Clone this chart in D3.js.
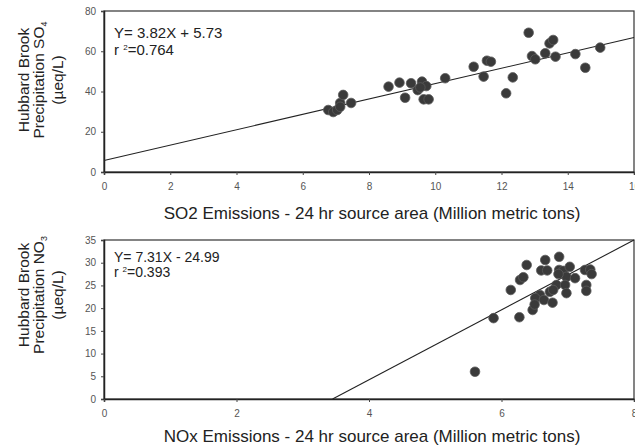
<!DOCTYPE html>
<html>
<head>
<meta charset="utf-8">
<script src="https://cdnjs.cloudflare.com/ajax/libs/d3/7.8.5/d3.min.js"></script>
<style>
  body { margin: 0; background: #fff; overflow: hidden; }
  svg { display: block; font-family: "Liberation Sans", Arial, sans-serif; }
  .tick text { fill: #555; font-size: 10px; }
</style>
</head>
<body>
<script>
// SO4 vs SO2 emissions
var so2X = [6.77, 6.92, 7.04, 7.13, 7.22, 7.13, 7.46, 8.59, 8.92, 9.09, 9.27, 9.47, 9.60, 9.73, 9.65, 9.80,
            10.30, 11.16, 11.46, 11.56, 11.68, 12.14, 12.34, 12.82, 12.92, 13.02, 13.32, 13.45, 13.56, 13.63,
            14.23, 14.53, 14.98, 9.55];
var so4Y = [30.8, 29.8, 30.8, 34.3, 38.3, 32.4, 34.3, 42.4, 44.4, 36.9, 44.1, 40.7, 44.9, 42.7, 36.1, 36.1,
            46.6, 52.3, 47.4, 55.3, 54.8, 39.1, 47.0, 69.2, 57.6, 56.0, 59.0, 63.9, 65.6, 57.3,
            58.6, 51.8, 61.8, 42.0];
// NO3 vs NOx emissions
var noxX = [5.60, 5.88, 6.27, 6.14, 6.28, 6.33, 6.38, 6.66, 6.87, 6.60, 6.69, 6.87, 6.93, 7.03, 7.26, 7.34,
            7.36, 7.28, 7.28, 6.98, 7.11, 6.83, 6.96, 6.98, 6.73, 6.58, 6.51, 6.64, 6.77, 6.47, 6.86, 6.78, 6.50];
var no3Y = [6.0, 17.8, 18.0, 24.0, 26.2, 26.8, 29.5, 30.6, 31.3, 28.3, 28.3, 28.4, 28.2, 29.1, 28.4, 28.5,
            27.5, 25.1, 23.8, 26.9, 26.6, 25.1, 25.1, 23.3, 23.6, 22.9, 22.2, 21.8, 21.2, 19.6, 27.5, 24.0, 20.8];

var so4Fit = [[0, 5.73], [16, 66.85]];
var no3Fit = [[3.45, 0], [8, 35]];

var so4Ticks = [0, 20, 40, 60, 80];
var so2Ticks = [0, 2, 4, 6, 8, 10, 12, 14, 16];
var no3Ticks = [0, 5, 10, 15, 20, 25, 30, 35];
var noxTicks = [0, 2, 4, 6, 8];

var svg = d3.select("body").append("svg")
    .attr("width", 635)
    .attr("height", 448);

function drawPanel(opt) {
    var x = d3.scaleLinear().domain(opt.xDomain).range([104, 634]);
    var y = d3.scaleLinear().domain(opt.yDomain).range([opt.bottom, opt.top]);
    var g = svg.append("g");

    // frame
    g.append("rect")
        .attr("x", 104).attr("y", opt.top)
        .attr("width", 530).attr("height", opt.bottom - opt.top)
        .attr("fill", "none").attr("stroke", "#333").attr("stroke-width", 1.2);

    var yAxis = g.append("g")
        .attr("transform", "translate(104,0)")
        .call(d3.axisLeft(y).tickValues(opt.yTicks).tickSize(3).tickPadding(5));
    var xAxis = g.append("g")
        .attr("transform", "translate(0," + opt.bottom + ")")
        .call(d3.axisBottom(x).tickValues(opt.xTicks).tickSize(3).tickPadding(8));
    [yAxis, xAxis].forEach(function (a) {
        a.select(".domain").attr("stroke", "#222").attr("stroke-width", 1.5);
        a.selectAll(".tick line").attr("stroke", "#444");
        a.selectAll(".tick text").attr("font-family", null).attr("font-size", null);
    });

    // fitted line
    g.append("path")
        .attr("d", d3.line().x(function (d) { return x(d[0]); }).y(function (d) { return y(d[1]); })(opt.fit))
        .attr("fill", "none").attr("stroke", "#222").attr("stroke-width", 1.1);

    // dots
    g.selectAll("circle")
        .data(opt.xs)
        .enter()
        .append("circle")
        .attr("cx", function (d) { return x(d); })
        .attr("cy", function (d, i) { return y(opt.ys[i]); })
        .attr("r", 4.8)
        .attr("fill", "#3a3a3a")
        .attr("stroke", "#5a5a5a")
        .attr("stroke-width", 0.8);

    // equation
    var eq = g.append("text")
        .attr("x", 114).attr("y", opt.top + opt.eqOffset)
        .attr("font-size", opt.eqSize + "px").attr("fill", "#222");
    eq.append("tspan").text(opt.eq);
    var r2 = g.append("text")
        .attr("x", 114).attr("y", opt.top + opt.eqOffset + opt.eqGap)
        .attr("font-size", opt.eqSize + "px").attr("fill", "#222");
    r2.append("tspan").text("r ");
    r2.append("tspan").attr("font-size", "8px").attr("dy", -5).text("2");
    r2.append("tspan").attr("dy", 5).text("=" + opt.r2);

    // x title
    g.append("text")
        .attr("x", 372).attr("y", opt.xTitleY)
        .attr("text-anchor", "middle")
        .attr("font-size", "17px").attr("fill", "#222")
        .text(opt.xTitle);

    // y title
    var yt = g.append("g").attr("transform", "translate(0," + opt.yTitleC + ")");
    var lines = [[29, "Hubbard Brook"], [44, null], [63, "(\u00b5eq/L)"]];
    lines.forEach(function (l) {
        var t = yt.append("text")
            .attr("transform", "translate(" + l[0] + ",0) rotate(-90)")
            .attr("text-anchor", "middle")
            .attr("font-size", "15.5px").attr("fill", "#222");
        if (l[1]) {
            t.text(l[1]);
        } else {
            t.append("tspan").text("Precipitation " + opt.ion);
            t.append("tspan").attr("font-size", "9px").attr("dy", 3).text(opt.sub);
        }
    });
}

drawPanel({
    xDomain: [0, 16], yDomain: [0, 80], top: 11, bottom: 172,
    xTicks: so2Ticks, yTicks: so4Ticks, xs: so2X, ys: so4Y, fit: so4Fit,
    eq: "Y= 3.82X + 5.73", r2: "0.764", eqOffset: 27, eqGap: 17, eqSize: 15,
    xTitle: "SO2 Emissions - 24 hr source area (Million metric tons)", xTitleY: 219,
    ion: "SO", sub: "4", yTitleC: 80
});

drawPanel({
    xDomain: [0, 8], yDomain: [0, 35], top: 240, bottom: 399,
    xTicks: noxTicks, yTicks: no3Ticks, xs: noxX, ys: no3Y, fit: no3Fit,
    eq: "Y= 7.31X - 24.99", r2: "0.393", eqOffset: 22, eqGap: 15, eqSize: 14,
    xTitle: "NOx Emissions - 24 hr source area (Million metric tons)", xTitleY: 442,
    ion: "NO", sub: "3", yTitleC: 295
});
</script>
</body>
</html>
